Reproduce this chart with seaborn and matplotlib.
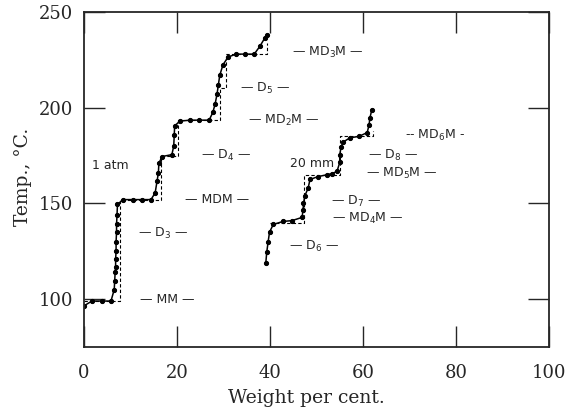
import matplotlib
matplotlib.use("Agg")
import matplotlib.pyplot as plt
import seaborn as sns

# 1 atm distillation curve (weight %, temp C)
atm_x = [0, 1.7, 3.9, 5.8, 6.5, 6.6, 6.7, 6.8, 6.8, 6.9, 6.9, 7.0, 7.0, 7.1, 7.2,
         8.4, 10.5, 12.5, 14.4, 15.3, 15.7, 16.0, 16.1, 16.8, 18.9,
         19.3, 19.4, 19.5, 20.6, 22.8, 24.7, 26.9, 27.7, 28.2, 28.6, 28.9, 29.2, 29.9,
         31.0, 32.7, 34.6, 36.6, 37.8, 38.9, 39.4]
atm_y = [96.5, 99, 99, 99, 105, 109.5, 114, 117, 121, 125, 130, 135, 139, 144, 149.5,
         152, 152, 152, 152, 155.5, 161.5, 166, 171, 174.5, 175.5,
         180, 185.5, 190.5, 193, 193.5, 193.5, 193.5, 197.5, 202, 207, 212, 217, 222.5,
         226.5, 228, 228, 228, 232, 236.5, 238]

# 20 mm distillation curve
mm_x = [39.1, 39.3, 39.6, 39.9, 40.7, 42.8, 44.7, 46.9, 47.1, 47.2, 47.5, 48.2, 48.6,
        50.3, 52.3, 53.3, 54.4, 55.0, 55.0, 55.3, 55.7, 57.2, 59.1, 60.9, 61.3, 61.5, 61.9]
mm_y = [119, 124.5, 130, 135, 139, 140.6, 141, 142.7, 146.5, 150, 154, 158, 162.5,
        164, 165, 165.6, 166.7, 171.4, 175.5, 179.7, 182, 184.3, 185, 187, 191, 194.8, 199]

# theoretical composition steps (dashed)
atm_step_x = [0, 7.7, 7.7, 16.6, 16.6, 20.2, 20.2, 29.2, 29.2, 30.6, 30.6, 39.3, 39.3]
atm_step_y = [99, 99, 152, 152, 175, 175, 193.5, 193.5, 210.5, 210.5, 228, 228, 234]
mm_step_x = [39.9, 47.4, 47.4, 55.1, 55.1, 62.1, 62.1]
mm_step_y = [140, 140, 165, 165, 185, 185, 188]

# compound labels: text, x, y
labels = ["— MM —", "— D$_3$ —", "— MDM —", "— D$_4$ —", "— MD$_2$M —", "— D$_5$ —",
          "— MD$_3$M —", "— D$_6$ —", "— MD$_4$M —", "— D$_7$ —", "— MD$_5$M —",
          "— D$_8$ —", "-- MD$_6$M -"]
label_x = [18, 17, 28.6, 30.5, 43, 39, 52.5, 49.4, 61, 58.6, 68.4, 66.5, 75.5]
label_y = [100, 134.5, 152, 175, 193.5, 210, 229, 127.5, 142, 151, 165.5, 175, 185.5]

sns.set_style("ticks")
plt.rcParams['font.family'] = ['DejaVu Serif']
plt.rcParams['mathtext.fontset'] = 'dejavusans'

fig, ax = plt.subplots(figsize=(5.71, 4.08), dpi=100)
fig.subplots_adjust(left=84/571, right=549/571, top=1-12/408, bottom=1-347/408)

for xs, ys in [(atm_step_x, atm_step_y), (mm_step_x, mm_step_y)]:
    sns.lineplot(x=xs, y=ys, sort=False, estimator=None, color='black',
                 linestyle=(0, (3, 2)), linewidth=0.8, ax=ax)
for xs, ys in [(atm_x, atm_y), (mm_x, mm_y)]:
    sns.lineplot(x=xs, y=ys, sort=False, estimator=None, color='black', linewidth=1.1,
                 marker='o', markersize=3, markeredgecolor='black', ax=ax)

for t, x, y in zip(labels, label_x, label_y):
    ax.text(x, y, t, ha='center', va='center', fontsize=9, family='DejaVu Sans')
ax.text(5.6, 170, "1 atm", ha='center', va='center', fontsize=9, family='DejaVu Sans')
ax.text(49, 171, "20 mm", ha='center', va='center', fontsize=9, family='DejaVu Sans')

ax.set_xlim(0, 100)
ax.set_ylim(75, 250)
ax.set_xticks([0, 20, 40, 60, 80, 100])
ax.set_yticks([100, 150, 200, 250])
ax.tick_params(direction='in', length=15, width=1, top=True, right=True, labelsize=13)
ax.tick_params(axis='x', pad=12)
ax.tick_params(axis='y', pad=8)
for s in ax.spines.values():
    s.set_linewidth(1.3)
ax.set_xlabel("Weight per cent.", fontsize=13.5)
ax.set_ylabel("Temp., °C.", fontsize=13.5)
ax.xaxis.set_label_coords((306-84)/465, -0.152)
ax.yaxis.set_label_coords(-0.131, 0.507)
ax.xaxis.label.set_va('center')
ax.yaxis.label.set_va('center')

fig.savefig("out.png", dpi=100)
